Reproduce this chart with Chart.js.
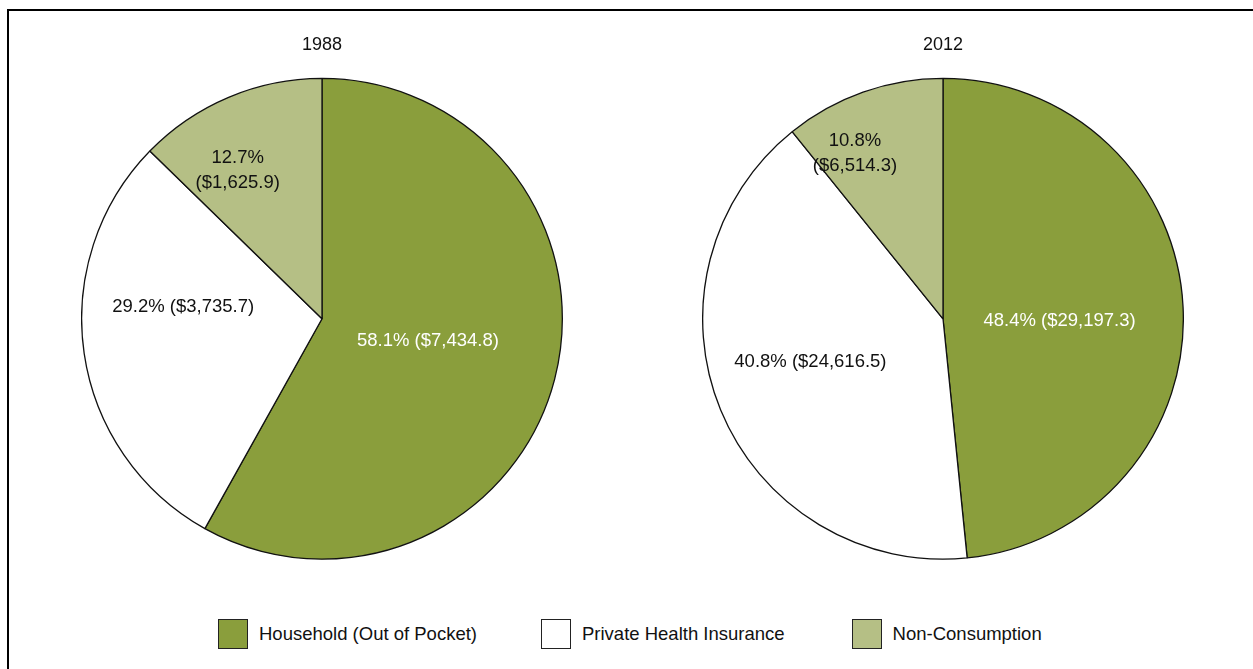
<!DOCTYPE html>
<html>
<head>
<meta charset="utf-8">
<script src="https://cdn.jsdelivr.net/npm/chart.js@4.4.0/dist/chart.umd.min.js"></script>
<style>
  html, body { margin: 0; padding: 0; background: #fff; }
  body { width: 1253px; height: 669px; position: relative; overflow: hidden; font-family: "Liberation Sans", Arial, sans-serif; }
  .frame { position: absolute; left: 7px; top: 9px; width: 1300px; height: 700px; border-top: 2px solid #000; border-left: 2px solid #000; }
  .pie { position: absolute; top: 24px; width: 482px; height: 536px; }
  #legend { position: absolute; top: 619px; left: 218px; display: flex; align-items: center; }
  .item { display: flex; align-items: center; font-size: 18.5px; color: #111; }
  .swatch { width: 28px; height: 28px; border: 1.5px solid #222; margin-right: 11px; }
</style>
</head>
<body>
<div class="frame"></div>
<div class="pie" style="left:81px"><canvas id="pie1988"></canvas></div>
<div class="pie" style="left:702px"><canvas id="pie2012"></canvas></div>
<div id="legend"></div>
<script>
// data
const categories = ["Household (Out of Pocket)", "Private Health Insurance", "Non-Consumption"];
const years = ["1988", "2012"];
const values1988 = [7434.8, 3735.7, 1625.9];
const values2012 = [29197.3, 24616.5, 6514.3];
const percents1988 = [58.1, 29.2, 12.7];
const percents2012 = [48.4, 40.8, 10.8];

const colors = ["#8a9e3c", "#ffffff", "#b5bf85"];
const textColors = ["#ffffff", "#111111", "#111111"];

// where each slice label sits: degrees clockwise from 12 o'clock, fraction of radius
const labelSpots1988 = [[101.7, 0.45], [275, 0.58], [330.4, 0.71]];
const labelSpots2012 = [[91, 0.485], [252, 0.58], [332, 0.78]];
// legend item gaps (px after each item)
const legendGaps = [64, 67, 0];

const money = v => "($" + v.toLocaleString("en-US", { minimumFractionDigits: 1, maximumFractionDigits: 1 }) + ")";

const sliceLabels = {
  id: "sliceLabels",
  afterDatasetsDraw(chart, args, opts) {
    const ctx = chart.ctx;
    const meta = chart.getDatasetMeta(0);
    ctx.save();
    ctx.font = "18.5px 'Liberation Sans', Arial, sans-serif";
    ctx.textAlign = "center";
    ctx.textBaseline = "middle";
    meta.data.forEach((arc, i) => {
      const [deg, frac] = opts.spots[i];
      const a = (deg - 90) * Math.PI / 180;
      const x = arc.x + Math.cos(a) * arc.outerRadius * frac;
      const y = arc.y + Math.sin(a) * arc.outerRadius * frac;
      const pct = opts.percents[i].toFixed(1) + "%";
      const val = money(chart.data.datasets[0].data[i]);
      ctx.fillStyle = textColors[i];
      if (i === 2) {
        ctx.fillText(pct, x, y - 12.5);
        ctx.fillText(val, x, y + 12.5);
      } else {
        ctx.fillText(pct + " " + val, x, y);
      }
    });
    ctx.restore();
  }
};

function makePie(id, title, values, percents, spots) {
  return new Chart(document.getElementById(id), {
    type: "pie",
    data: {
      labels: categories,
      datasets: [{
        data: values,
        backgroundColor: colors,
        borderColor: "#111",
        borderWidth: 1.3
      }]
    },
    options: {
      responsive: true,
      maintainAspectRatio: false,
      animation: false,
      layout: { padding: 0 },
      plugins: {
        legend: { display: false },
        tooltip: { enabled: false },
        title: {
          display: true,
          text: title,
          color: "#111",
          font: { family: "'Liberation Sans', Arial, sans-serif", size: 18, weight: "normal" },
          padding: { top: 10, bottom: 22 }
        },
        sliceLabels: { spots, percents }
      }
    },
    plugins: [sliceLabels]
  });
}

makePie("pie1988", years[0], values1988, percents1988, labelSpots1988);
makePie("pie2012", years[1], values2012, percents2012, labelSpots2012);

// shared legend
const legend = document.getElementById("legend");
categories.forEach((c, i) => {
  const item = document.createElement("div");
  item.className = "item";
  item.style.marginRight = legendGaps[i] + "px";
  item.innerHTML = '<span class="swatch" style="background:' + colors[i] + '"></span>' + c;
  legend.appendChild(item);
});
</script>
</body>
</html>
